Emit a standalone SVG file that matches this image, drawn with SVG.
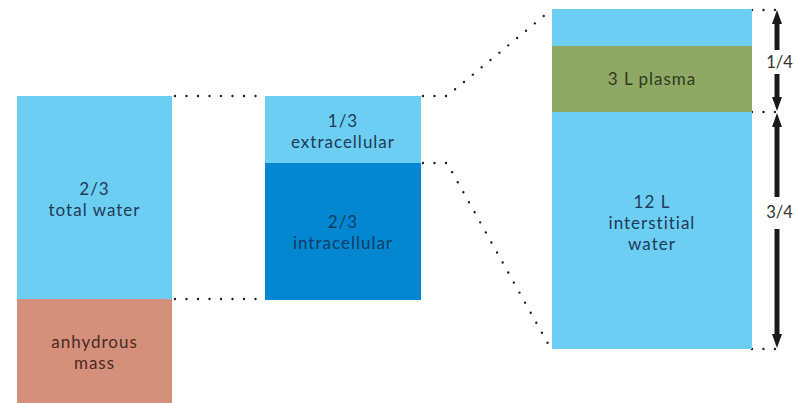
<svg xmlns="http://www.w3.org/2000/svg" width="794" height="403" viewBox="0 0 794 403">
<style>
.t{font-family:Lato,"Open Sans","Liberation Sans",sans-serif;font-size:17px;letter-spacing:1px;text-anchor:middle}
.s{font-family:Lato,"Open Sans","Liberation Sans",sans-serif;font-size:16.5px;text-anchor:middle}
.dot{fill:none;stroke:#222;stroke-width:2.4;stroke-dasharray:0 11.5;stroke-linecap:round}
.ar{fill:#1a1a1a}
</style>
<rect width="794" height="403" fill="#ffffff"/>
<g id="connectors">
<path class="dot" d="M175 96 H263"/>
<path class="dot" d="M175 299 H263"/>
<path class="dot" d="M423 96 H447 L551 10"/>
<path class="dot" d="M423 163 H447 L551 349"/>
<path class="dot" d="M752 10 H776"/>
<path class="dot" d="M752 112 H776"/>
<path class="dot" d="M752 349 H776"/>
</g>
<g id="total-water">
<rect x="17" y="96" width="155" height="203" fill="#6ccef3"/>
<text class="t" x="94.5" y="195" fill="#1e3b57">2/3</text>
<text class="t" x="94.5" y="216" fill="#1e3b57">total water</text>
</g>
<g id="anhydrous-mass">
<rect x="17" y="299" width="155" height="104" fill="#d5907c"/>
<text class="t" x="94.5" y="347.5" fill="#4a2a22">anhydrous</text>
<text class="t" x="94.5" y="368.5" fill="#4a2a22">mass</text>
</g>
<g id="extracellular">
<rect x="265" y="96" width="156" height="67" fill="#6ccef3"/>
<text class="t" x="343" y="127" fill="#1e3b57">1/3</text>
<text class="t" x="343" y="148" fill="#1e3b57">extracellular</text>
</g>
<g id="intracellular">
<rect x="265" y="163" width="156" height="137" fill="#0387d0"/>
<text class="t" x="343" y="227.5" fill="#0c3d66">2/3</text>
<text class="t" x="343" y="248.5" fill="#0c3d66">intracellular</text>
</g>
<g id="extracellular-top">
<rect x="552" y="9" width="200" height="37" fill="#6ccef3"/>
</g>
<g id="plasma">
<rect x="552" y="46" width="200" height="66" fill="#8fa864"/>
<text class="t" x="652" y="85" fill="#2d3a1f">3 L plasma</text>
</g>
<g id="interstitial">
<rect x="552" y="112" width="200" height="237" fill="#6ccef3"/>
<text class="t" x="652" y="208" fill="#1e3b57">12 L</text>
<text class="t" x="652" y="229" fill="#1e3b57">interstitial</text>
<text class="t" x="652" y="250" fill="#1e3b57">water</text>
</g>
<g id="dim-1-4">
<path class="ar" d="M777 10 L782 24 L779.5 24 L779.5 50 L774.5 50 L774.5 24 L772 24 Z"/>
<path class="ar" d="M777 111 L782 97 L779.5 97 L779.5 74 L774.5 74 L774.5 97 L772 97 Z"/>
<text class="s" x="779.5" y="68" fill="#333">1/4</text>
</g>
<g id="dim-3-4">
<path class="ar" d="M777 113 L782 127 L779.5 127 L779.5 197 L774.5 197 L774.5 127 L772 127 Z"/>
<path class="ar" d="M777 348 L782 334 L779.5 334 L779.5 229 L774.5 229 L774.5 334 L772 334 Z"/>
<text class="s" x="779.5" y="218" fill="#333">3/4</text>
</g>
</svg>
